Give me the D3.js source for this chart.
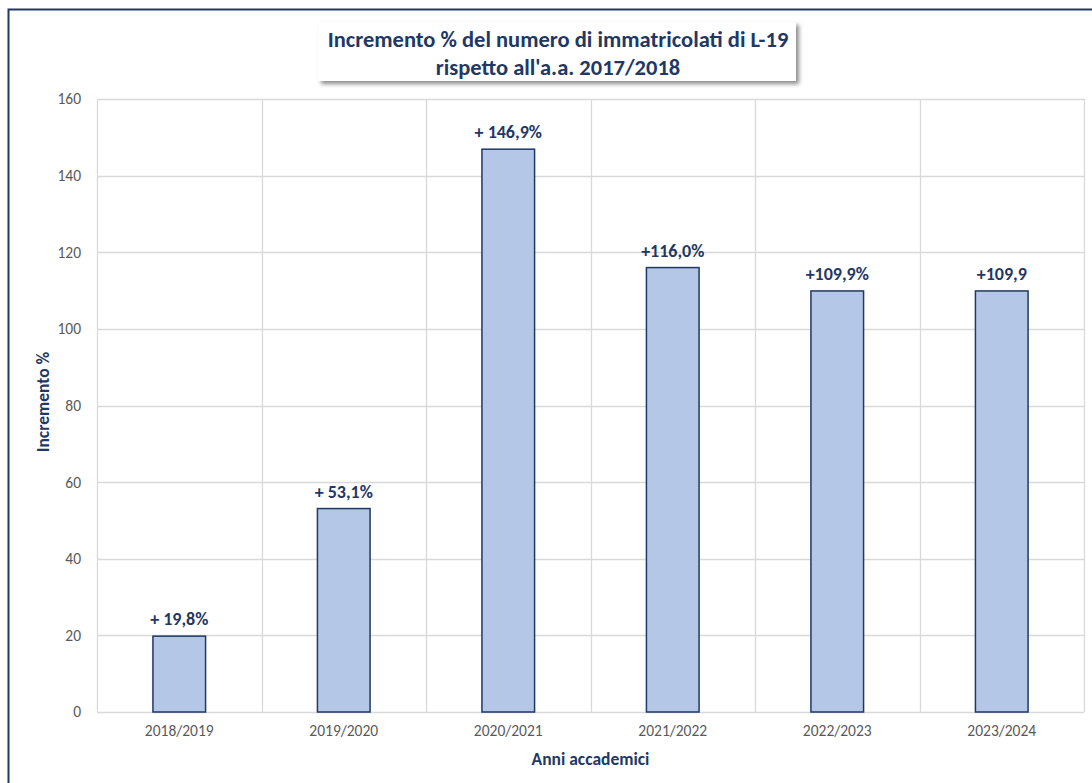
<!DOCTYPE html>
<html>
<head>
<meta charset="utf-8">
<script src="https://cdn.jsdelivr.net/npm/d3@7"></script>
<style>
  body { margin: 0; background: #fff; }
  svg { font-family: Carlito, Lato, "Open Sans", sans-serif; }
</style>
</head>
<body>
<svg width="1092" height="783"></svg>
<script>
// data
const years = ["2018/2019", "2019/2020", "2020/2021", "2021/2022", "2022/2023", "2023/2024"];
const increments = [19.8, 53.1, 146.9, 116.0, 109.9, 109.9];
const barLabels = ["+ 19,8%", "+ 53,1%", "+ 146,9%", "+116,0%", "+109,9%", "+109,9"];
const yTicks = [0, 20, 40, 60, 80, 100, 120, 140, 160];

const navy = "#1F3864";

const svg = d3.select("svg");

// chart frame with a soft shadow on the title box
const defs = svg.append("defs");
const sh = defs.append("filter").attr("id", "shadow").attr("x", "-10%").attr("y", "-30%").attr("width", "130%").attr("height", "180%");
sh.append("feDropShadow").attr("dx", 3).attr("dy", 3).attr("stdDeviation", 2).attr("flood-color", "#000").attr("flood-opacity", 0.45);

svg.append("rect")
   .attr("x", 8.5).attr("y", 9.5)
   .attr("width", 1200).attr("height", 900)
   .attr("fill", "#fff")
   .attr("stroke", navy)
   .attr("stroke-width", 2);

const margin = {top: 99, right: 8, bottom: 71, left: 97};
const width = 1084 - margin.left;
const height = 712 - margin.top;

const g = svg.append("g")
   .attr("transform", "translate(" + margin.left + "," + margin.top + ")");

const x = d3.scaleBand().domain(years).range([0, width]).paddingInner(0).paddingOuter(0);
const y = d3.scaleLinear().domain([0, 160]).range([height, 0]);

// horizontal grid
g.append("g")
 .selectAll("line")
 .data(yTicks)
 .enter()
 .append("line")
 .attr("x1", 0).attr("x2", width)
 .attr("y1", d => Math.round(y(d)) + 0.5).attr("y2", d => Math.round(y(d)) + 0.5)
 .attr("stroke", "#d9d9d9").attr("stroke-width", 1.3);

// vertical grid at category boundaries
const bounds = years.map(d => x(d)).concat([width]);
g.append("g")
 .selectAll("line")
 .data(bounds)
 .enter()
 .append("line")
 .attr("x1", d => Math.round(d) + 0.5).attr("x2", d => Math.round(d) + 0.5)
 .attr("y1", 0).attr("y2", height)
 .attr("stroke", "#d9d9d9").attr("stroke-width", 1.3);

// y axis
const yAxis = g.append("g")
 .attr("transform", "translate(-16,0)")
 .call(d3.axisLeft(y).tickValues(yTicks).tickSize(0).tickPadding(0));
yAxis.select(".domain").remove();
yAxis.selectAll("text")
 .attr("fill", "#595959")
 .style("font-size", "15.5px")
 .style("font-family", "Carlito, Lato, sans-serif");

// x axis
const xAxis = g.append("g")
 .attr("transform", "translate(0," + height + ")")
 .call(d3.axisBottom(x).tickSize(0).tickPadding(13));
xAxis.select(".domain").remove();
xAxis.selectAll("text")
 .attr("fill", "#595959")
 .style("font-size", "15.5px")
 .style("font-family", "Carlito, Lato, sans-serif");

// bars
const barW = x.bandwidth() * 0.32;
g.selectAll("rect.bar")
 .data(increments)
 .enter()
 .append("rect")
 .attr("class", "bar")
 .attr("x", (d, i) => x(years[i]) + (x.bandwidth() - barW) / 2)
 .attr("y", d => y(d))
 .attr("width", barW)
 .attr("height", d => height - y(d))
 .attr("fill", "#B4C7E7")
 .attr("stroke", navy)
 .attr("stroke-width", 1.5);

// value labels
g.selectAll("text.lbl")
 .data(increments)
 .enter()
 .append("text")
 .attr("class", "lbl")
 .attr("x", (d, i) => x(years[i]) + x.bandwidth() / 2)
 .attr("y", d => y(d) - 11)
 .attr("text-anchor", "middle")
 .attr("fill", navy)
 .style("font-size", "18px")
 .style("font-weight", "bold")
 .text((d, i) => barLabels[i]);

// axis titles
svg.append("text")
 .attr("x", margin.left + width / 2)
 .attr("y", 765)
 .attr("text-anchor", "middle")
 .attr("fill", navy)
 .style("font-size", "17.5px")
 .style("font-weight", "bold")
 .text("Anni accademici");

svg.append("text")
 .attr("transform", "translate(49,402) rotate(-90)")
 .attr("text-anchor", "middle")
 .attr("fill", navy)
 .style("font-size", "17.5px")
 .style("font-weight", "bold")
 .text("Incremento %");

// title box
svg.append("rect")
 .attr("x", 318).attr("y", 22)
 .attr("width", 478).attr("height", 59)
 .attr("fill", "#fff")
 .attr("filter", "url(#shadow)");

const title = svg.append("text")
 .attr("text-anchor", "middle")
 .attr("fill", navy)
 .style("font-size", "22.5px")
 .style("font-weight", "bold");
title.append("tspan").attr("x", 558).attr("y", 47).text("Incremento % del numero di immatricolati di L-19");
title.append("tspan").attr("x", 558).attr("y", 75).text("rispetto all'a.a. 2017/2018");
</script>
</body>
</html>
